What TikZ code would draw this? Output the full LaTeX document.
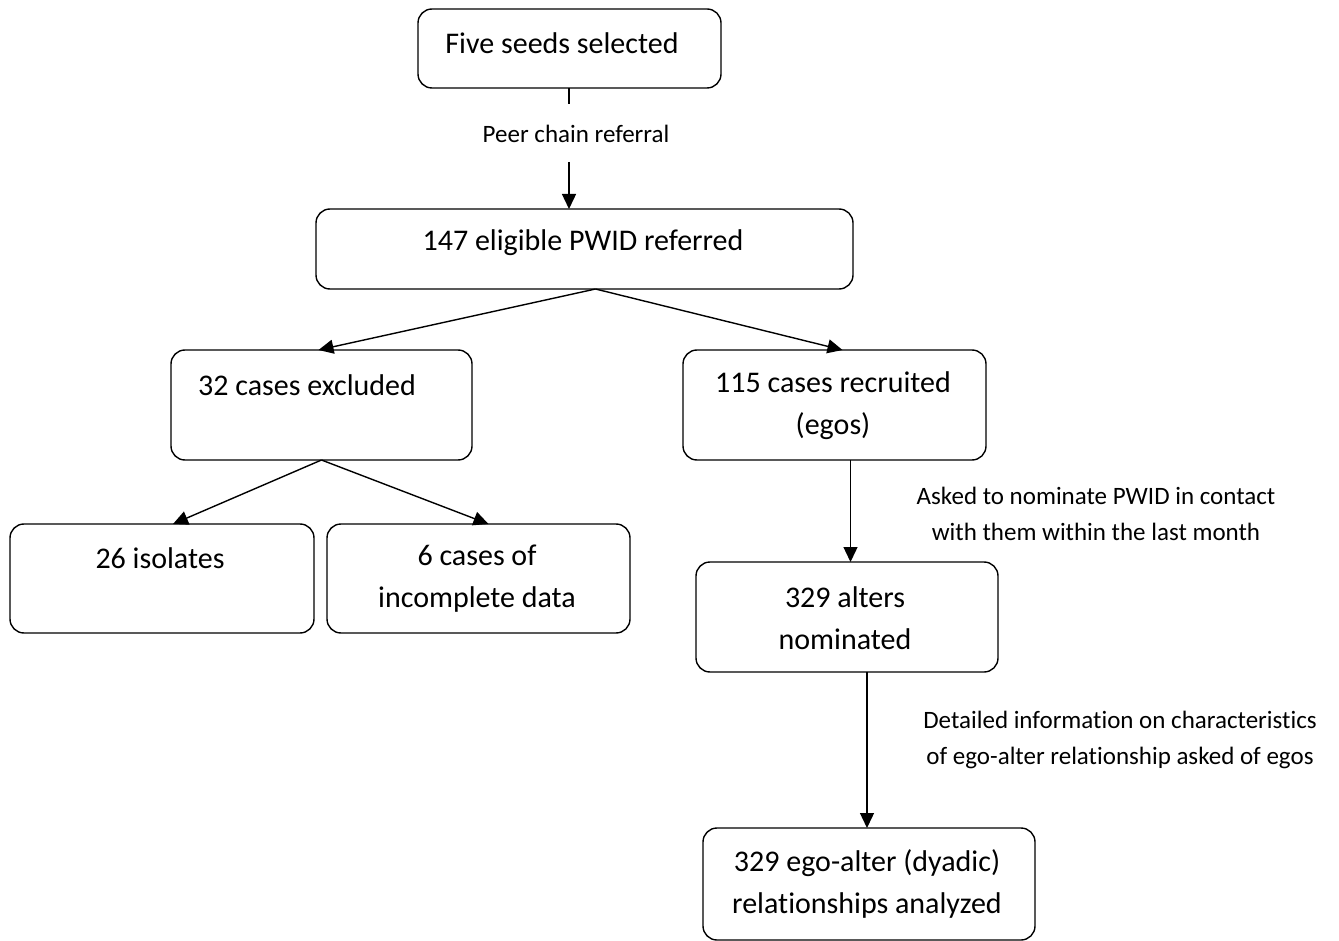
\documentclass[tikz,border=0pt]{standalone}
\usepackage{fontspec}
\setmainfont{Carlito}[Ligatures=NoCommon]
\usetikzlibrary{arrows.meta,calc}
\begin{document}
\begin{tikzpicture}[x=1pt,y=-1pt,
  box/.style={draw, line width=1.4pt, rounded corners=14pt, inner sep=0pt, outer sep=0pt},
  txt/.style={inner sep=0pt, align=center, font=\fontsize{30}{42}\selectfont},
  lbl/.style={inner sep=0pt, align=center, font=\fontsize{25}{36}\selectfont},
  arr/.style={line width=1.4pt, -{Triangle[length=15pt,width=14pt]}},
  ln/.style={line width=1.4pt}]
\useasboundingbox (0,0) rectangle (1339,941);
% boxes
\node[box, minimum width=303pt, minimum height=79pt]  (five) at (569.5,48.5) {};
\node[box, minimum width=537pt, minimum height=80pt]  (elig) at (584.5,249) {};
\node[box, minimum width=301pt, minimum height=110pt] (excl) at (321.5,405) {};
\node[box, minimum width=303pt, minimum height=110pt] (recr) at (834.5,405) {};
\node[box, minimum width=304pt, minimum height=109pt] (iso)  at (162,578.5) {};
\node[box, minimum width=303pt, minimum height=109pt] (inc)  at (478.5,578.5) {};
\node[box, minimum width=302pt, minimum height=110pt] (alt)  at (847,617) {};
\node[box, minimum width=332pt, minimum height=112pt] (dyad) at (869,884) {};
% texts
\node[txt] (t-five) at (562,43) {Five seeds selected};
\node[txt] (t-elig) at (583,243) {147 eligible PWID referred};
\node[txt] (t-excl) at (307,385) {32 cases excluded};
\node[txt] (t-recr) at (833,406) {115 cases recruited\\(egos)};
\node[txt] (t-iso)  at (160,558) {26 isolates};
\node[txt] (t-inc)  at (477,579) {6 cases of\\incomplete data};
\node[txt] (t-alt)  at (845,618) {329 alters\\nominated};
\node[txt] (t-dyad) at (867,884) {329 ego-alter (dyadic)\\relationships analyzed};
% labels
\node[lbl] (l-peer) at (576,134) {Peer chain referral};
\node[lbl] (l-ask)  at (1096,514) {Asked to nominate PWID in contact\\with them within the last month};
\node[lbl] (l-det)  at (1120,740) {Detailed information on characteristics\\of ego-alter relationship asked of egos};
% connectors
\coordinate (c1) at (569,104);
\coordinate (c2) at (569,162);
\draw[ln] (five.south -| c1) -- (c1);
\draw[arr] (c2) -- (c2 |- elig.north);
\coordinate (s1) at ($(elig.south)+(11,0)$);
\draw[arr] (s1) -- ($(excl.north)+(-3,0)$);
\draw[arr] (s1) -- ($(recr.north)+(8,0)$);
\draw[arr] (excl.south) -- ($(iso.north)+(11,0)$);
\draw[arr] (excl.south) -- ($(inc.north)+(10,0)$);
\coordinate (s2) at ($(recr.south)+(16,0)$);
\draw[arr] (s2) -- (s2 |- alt.north);
\coordinate (s3) at ($(alt.south)+(20,0)$);
\draw[arr] (s3) -- (s3 |- dyad.north);
\end{tikzpicture}
\end{document}
